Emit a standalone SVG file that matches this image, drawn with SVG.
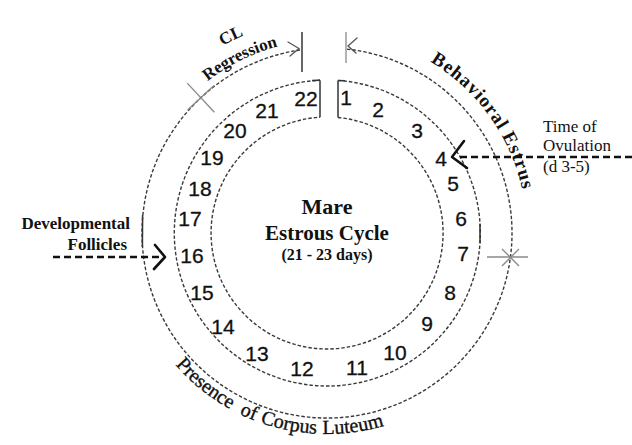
<svg xmlns="http://www.w3.org/2000/svg" width="632" height="445" viewBox="0 0 632 445">
<style>
.ring{fill:none;stroke:#3a3a3a;stroke-width:1.4;stroke-dasharray:3.5 2}
.solid{fill:none;stroke:#333;stroke-width:1.5}
.mark{fill:none;stroke:#8a8a8a;stroke-width:1.3}
.arrow{fill:none;stroke:#111;stroke-width:2.6;stroke-dasharray:7 4}
.head{fill:none;stroke:#111;stroke-width:2.6;stroke-linecap:round;stroke-linejoin:round}
.thin{fill:none;stroke:#555;stroke-width:1.3;stroke-linecap:round}
.num{font-family:"Liberation Sans",Arial,sans-serif;font-size:21px;fill:#111;stroke:#111;stroke-width:0.3;text-anchor:middle}
.serif{font-family:"Liberation Serif","Times New Roman",serif;fill:#111}
.med{stroke:#111;stroke-width:0.35}
</style>
<defs>
<path id="pReg" d="M 179.2 108.9 A 193 193 0 0 1 316.9 40.3"/>
<path id="pCL" d="M 163 95.3 A 214.5 214.5 0 0 1 319.5 18.6"/>
<path id="pBeh" d="M 395.4 45.1 A 200 200 0 0 1 527 229.5"/>
<path id="pPres" d="M 168.6 356.8 A 201 201 0 0 0 389.8 423.9"/>
</defs>
<rect width="632" height="445" fill="#fff"/>

<g id="rings">
<path class="ring" d="M 347 49.1 A 185 185 0 1 1 300 50"/>
<path class="ring" d="M 338 80.4 A 153 153 0 1 1 320 80.2"/>
<path class="ring" d="M 338 117.5 A 116 116 0 1 1 320 117.2"/>
<line class="solid" x1="320" y1="80.2" x2="320" y2="117.2"/>
<line class="solid" x1="338" y1="80.4" x2="338" y2="117.5"/>
<path class="solid" d="M 312 80.4 L 320 80.2"/>
<path class="solid" d="M 338 80.4 L 345 80.8"/>
<line class="solid" x1="142.6" y1="215" x2="142.4" y2="247"/>
<line class="solid" x1="480" y1="224" x2="480" y2="243"/>
</g>

<g id="marks">
<line class="mark" x1="187.2" y1="83.1" x2="214.4" y2="112.3"/>
<line class="mark" x1="187.6" y1="110" x2="214" y2="85.4"/>
<line class="mark" x1="487" y1="257" x2="528" y2="257"/>
<line class="mark" x1="502" y1="249" x2="519" y2="266"/>
<line class="mark" x1="502" y1="266" x2="519" y2="249"/>
<line class="solid" x1="302" y1="32" x2="302" y2="72"/>
<line class="mark" x1="346" y1="32" x2="346" y2="63"/>
<polyline class="thin" points="288,42 299,48.5 290,56"/>
<polyline class="thin" points="357,38 348,46 356,53"/>
</g>

<g id="numbers">
<text class="num" x="346" y="104.5">1</text>
<text class="num" x="378" y="116.5">2</text>
<text class="num" x="417" y="137.5">3</text>
<text class="num" x="441" y="165.5">4</text>
<text class="num" x="453" y="190.5">5</text>
<text class="num" x="461" y="225.5">6</text>
<text class="num" x="463" y="260.5">7</text>
<text class="num" x="450" y="299.5">8</text>
<text class="num" x="427" y="330.5">9</text>
<text class="num" x="395" y="359.5">10</text>
<text class="num" x="357" y="374.5">11</text>
<text class="num" x="302" y="375.5">12</text>
<text class="num" x="257" y="360.5">13</text>
<text class="num" x="223" y="333.5">14</text>
<text class="num" x="202" y="299.5">15</text>
<text class="num" x="192" y="262.5">16</text>
<text class="num" x="190" y="225.5">17</text>
<text class="num" x="200" y="195.5">18</text>
<text class="num" x="212" y="164.5">19</text>
<text class="num" x="235" y="137.5">20</text>
<text class="num" x="267" y="117.5">21</text>
<text class="num" x="306" y="105.5">22</text>
</g>

<g id="center-label">
<text class="serif" x="327" y="214" font-size="22" font-weight="bold" text-anchor="middle">Mare</text>
<text class="serif" x="327" y="240" font-size="21" font-weight="bold" text-anchor="middle">Estrous Cycle</text>
<text class="serif" x="327" y="260" font-size="16" font-weight="bold" text-anchor="middle">(21 - 23 days)</text>
</g>

<g id="phase-labels">
<text class="serif" font-size="17" font-weight="bold" text-anchor="middle"><textPath href="#pCL" startOffset="50%">CL</textPath></text>
<text class="serif" font-size="17" font-weight="bold" text-anchor="middle"><textPath href="#pReg" startOffset="50%">Regression</textPath></text>
<text class="serif" font-size="19" font-weight="bold" text-anchor="middle" letter-spacing="1"><textPath href="#pBeh" startOffset="88">Behavioral</textPath></text>
<text class="serif" font-size="19" font-weight="bold" text-anchor="middle" letter-spacing="1"><textPath href="#pBeh" startOffset="172">Estrus</textPath></text>
<text class="serif med" font-size="20" text-anchor="middle"><textPath href="#pPres" startOffset="46">Presence</textPath></text>
<text class="serif med" font-size="20" text-anchor="middle"><textPath href="#pPres" startOffset="100">of</textPath></text>
<text class="serif med" font-size="20" text-anchor="middle"><textPath href="#pPres" startOffset="143">Corpus</textPath></text>
<text class="serif med" font-size="20" text-anchor="middle"><textPath href="#pPres" startOffset="209">Luteum</textPath></text>
</g>

<g id="ovulation">
<text class="serif" x="543" y="132" font-size="17">Time of</text>
<text class="serif" x="543" y="151" font-size="17">Ovulation</text>
<text class="serif" x="543" y="172" font-size="17">(d 3-5)</text>
</g>

<g id="follicles">
<text class="serif" x="130" y="229" font-size="17" font-weight="bold" text-anchor="end">Developmental</text>
<text class="serif" x="127" y="250" font-size="17" font-weight="bold" text-anchor="end">Follicles</text>
</g>

<g id="connectors">
<line class="arrow" x1="632" y1="157" x2="456" y2="157"/>
<polyline class="head" points="464,141 452,157 467,168"/>
<line class="arrow" x1="53" y1="257" x2="161" y2="257"/>
<polyline class="head" points="155,245 165,257 154,269"/>
</g>
</svg>
